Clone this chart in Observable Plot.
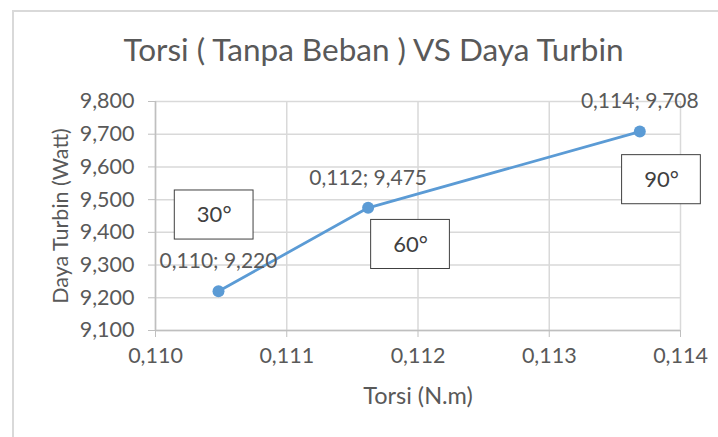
<!DOCTYPE html>
<html><head><meta charset="utf-8">
<script src="https://cdn.jsdelivr.net/npm/d3@7"></script>
<script src="https://cdn.jsdelivr.net/npm/@observablehq/plot@0.6"></script>
<style>
html,body{margin:0;padding:0;background:#fff;overflow:hidden}
#wrap{position:relative;width:718px;height:437px;overflow:hidden}
#border{position:absolute;left:12px;top:10px;width:760px;height:480px;border:2px solid #d9d9d9;box-sizing:border-box;pointer-events:none}
</style></head>
<body><div id="wrap"><div id="border"></div></div>
<script>
const title = ["Torsi ( Tanpa Beban ) VS Daya Turbin"];
const xLabel = ["Torsi (N.m)"];
const yLabel = ["Daya Turbin (Watt)"];
const torsi = [0.11048, 0.11162, 0.11369];
const daya = [9.220, 9.475, 9.708];
const pointLabels = ["0,110; 9,220", "0,112; 9,475", "0,114; 9,708"];
const xTicks = [0.110, 0.111, 0.112, 0.113, 0.114];
const yTicks = [9.1, 9.2, 9.3, 9.4, 9.5, 9.6, 9.7, 9.8];
const boxLabels = ["30°", "60°", "90°"];
const boxX = [0.110447, 0.111943, 0.113855];
const boxY = [9.453, 9.363, 9.561];
const boxHalfW = 0.0003;
const boxHalfH = 0.075;

const loc = d3.formatLocale({decimal: ",", thousands: ".", grouping: [3], currency: ["", ""]});
const fmt = loc.format(".3f");
const pts = torsi.map((x, i) => ({x, y: daya[i], label: pointLabels[i]}));
const boxes = boxLabels.map((t, i) => ({t, x: boxX[i], y: boxY[i]}));
const font = "Lato, 'Open Sans', sans-serif";
const gray = "#595959";

const chart = Plot.plot({
  width: 718, height: 437,
  marginLeft: 155, marginRight: 38, marginTop: 101, marginBottom: 107,
  style: {fontFamily: font, background: "transparent", overflow: "visible"},
  x: {domain: [0.110, 0.114]},
  y: {domain: [9.1, 9.8]},
  marks: [
    Plot.gridX(xTicks, {stroke: "#d9d9d9", strokeOpacity: 1, strokeWidth: 1.5}),
    Plot.gridY(yTicks, {stroke: "#d9d9d9", strokeOpacity: 1, strokeWidth: 1.5}),
    Plot.ruleX([0.110], {stroke: "#bfbfbf", strokeWidth: 1.5}),
    Plot.ruleY([9.1], {stroke: "#bfbfbf", strokeWidth: 1.5}),
    Plot.axisY(yTicks, {tickFormat: fmt, tickSize: 7, tickPadding: 14, stroke: "#bfbfbf", fill: gray, fontSize: 21.5, label: null}),
    Plot.axisX(xTicks, {tickFormat: fmt, tickSize: 7, tickPadding: 10, stroke: "#bfbfbf", fill: gray, fontSize: 21.5, label: null}),
    Plot.text(xLabel, {frameAnchor: "bottom", dy: 66, textAnchor: "middle", lineAnchor: "middle", fill: gray, fontSize: 23.5}),
    Plot.text(yLabel, {frameAnchor: "left", dx: -94, rotate: -90, textAnchor: "middle", lineAnchor: "middle", fill: gray, fontSize: 21.5}),
    Plot.line(pts, {x: "x", y: "y", stroke: "#5B9BD5", strokeWidth: 2.75}),
    Plot.dot(pts, {x: "x", y: "y", r: 6, fill: "#5B9BD5", stroke: "none"}),
    Plot.text(pts, {x: "x", y: "y", text: "label", dy: -30, fill: gray, fontSize: 21}),
    Plot.rect(boxes, {x1: d => d.x - boxHalfW, x2: d => d.x + boxHalfW, y1: d => d.y - boxHalfH, y2: d => d.y + boxHalfH, fill: "white", stroke: "#404040", strokeWidth: 1}),
    Plot.text(boxes, {x: "x", y: "y", text: "t", fill: "#404040", fontSize: 22}),
    Plot.text(title, {frameAnchor: "top", dx: -44.5, dy: -51, fill: gray, fontSize: 31.5, lineAnchor: "middle"})
  ]
});
document.getElementById("wrap").prepend(chart);
</script></body></html>
